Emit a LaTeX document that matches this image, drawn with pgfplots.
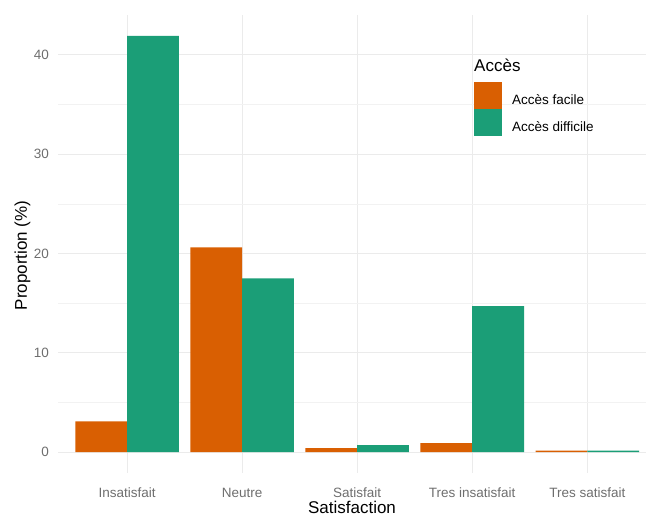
\documentclass[border=0pt]{standalone}
\usepackage{fontspec}
\setmainfont{Liberation Sans}
\usepackage{pgfplots}
\pgfplotsset{compat=1.18}
\definecolor{facile}{HTML}{D95F02}
\definecolor{difficile}{HTML}{1B9E77}
\definecolor{tickgrey}{HTML}{6E6E6E}

\begin{document}
\begin{tikzpicture}
\useasboundingbox (0,0) rectangle (646pt,517pt);
\begin{axis}[
    at={(58pt,44pt)}, anchor=south west,
    scale only axis,
    width=588pt, height=458pt,
    xmin=-0.6, xmax=4.51,
    ymin=-2.1, ymax=44,
    xtick={0,1,2,3,4},
    xticklabels={Insatisfait,Neutre,Satisfait,Tres insatisfait,Tres satisfait},
    ytick={0,10,20,30,40},
    minor ytick={5,15,25,35},
    ymajorgrids, yminorgrids, xmajorgrids,
    major grid style={line width=0.9pt, color=black!8},
    minor grid style={line width=0.5pt, color=black!5},
    axis line style={draw=none},
    tick style={draw=none},
    ticklabel style={font=\fontsize{13.5}{15}\selectfont, text=tickgrey, inner sep=0pt},
    /pgf/number format/assume math mode=true,
    xticklabel style={anchor=base, yshift=-20pt},
    yticklabel style={anchor=east, xshift=-9pt},
    xlabel={Satisfaction},
    ylabel={Proportion (\%)},
    label style={font=\fontsize{17}{19}\selectfont, inner sep=0pt},
    xlabel style={at={(axis description cs:0.5,0)}, anchor=base, yshift=-41pt},
    ylabel style={at={(axis description cs:0,0.475)}, anchor=base, yshift=31pt},
    ybar=0pt,
    bar width=0.45,
    legend cell align=left,
    legend style={at={(0.7075,0.8537)}, anchor=north west, draw=none, fill=none,
        inner sep=0pt, row sep=0pt, font=\fontsize{13.5}{15}\selectfont,
        nodes={inner sep=0pt, anchor=west}},
    legend image code/.code={\fill[#1] (0pt,-8.6pt) rectangle (28pt,18.4pt);},
    /tikz/every odd column/.append style={column sep=10pt},
    clip=false,
]
\addplot[fill=facile, draw=none, bar shift=-0.225] coordinates {(0,3.1) (1,20.6) (2,0.4) (3,0.9) (4,0.15)};
\addlegendentry{Accès facile}
\addplot[fill=difficile, draw=none, bar shift=0.225] coordinates {(0,41.9) (1,17.5) (2,0.7) (3,14.7) (4,0.15)};
\addlegendentry{Accès difficile}
\node[anchor=west, font=\fontsize{17}{19}\selectfont, inner sep=0pt] at (rel axis cs:0.7075,0.891) {Accès};
\end{axis}
\end{tikzpicture}
\end{document}
